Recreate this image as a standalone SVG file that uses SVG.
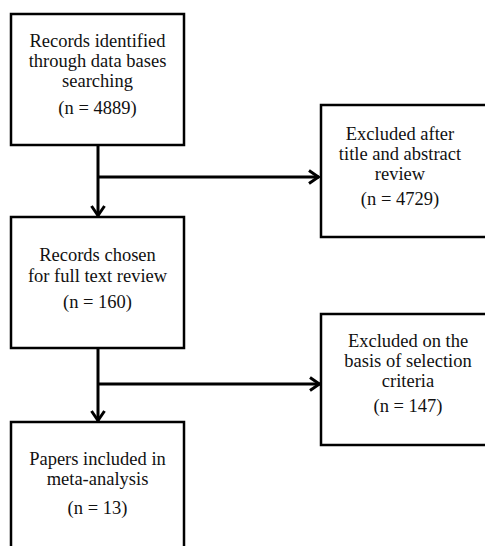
<svg xmlns="http://www.w3.org/2000/svg" width="485" height="546" viewBox="0 0 485 546">
<style>
.box{fill:#fff;stroke:#000;stroke-width:2.5}
.t{font-family:"Liberation Serif","Times New Roman",serif;font-size:18.5px;fill:#111;text-anchor:middle}
.c{fill:none;stroke:#000;stroke-width:3}
</style>
<defs>
<marker id="ah" viewBox="0 0 13 16" refX="11.5" refY="8" markerWidth="13" markerHeight="16" markerUnits="userSpaceOnUse" orient="auto">
<path d="M1.5,1.5 L11,8 L1.5,14.5" fill="none" stroke="#000" stroke-width="3"/>
</marker>
</defs>
<rect width="485" height="546" fill="#fff"/>
<g id="connectors">
<path class="c" d="M98,145 V216" marker-end="url(#ah)"/>
<path class="c" d="M98,177 H319" marker-end="url(#ah)"/>
<path class="c" d="M98,348 V421" marker-end="url(#ah)"/>
<path class="c" d="M98,384 H320" marker-end="url(#ah)"/>
</g>
<g id="n1">
<rect class="box" x="11" y="14" width="173" height="131"/>
<text class="t" x="97.5" y="47">Records identified</text>
<text class="t" x="97.5" y="67">through data bases</text>
<text class="t" x="97.5" y="87">searching</text>
<text class="t" x="97.5" y="114">(n = 4889)</text>
</g>
<g id="n2">
<rect class="box" x="321" y="105" width="170" height="132"/>
<text class="t" x="400" y="140">Excluded after</text>
<text class="t" x="400" y="160">title and abstract</text>
<text class="t" x="400" y="180">review</text>
<text class="t" x="400" y="205">(n = 4729)</text>
</g>
<g id="n3">
<rect class="box" x="11" y="217" width="173" height="131"/>
<text class="t" x="97.5" y="261">Records chosen</text>
<text class="t" x="97.5" y="282">for full text review</text>
<text class="t" x="97.5" y="308">(n = 160)</text>
</g>
<g id="n4">
<rect class="box" x="321" y="314" width="170" height="131"/>
<text class="t" x="408" y="347">Excluded on the</text>
<text class="t" x="408" y="367">basis of selection</text>
<text class="t" x="408" y="387">criteria</text>
<text class="t" x="408" y="412">(n = 147)</text>
</g>
<g id="n5">
<rect class="box" x="11" y="422" width="173" height="140"/>
<text class="t" x="97.5" y="465">Papers included in</text>
<text class="t" x="97.5" y="485">meta-analysis</text>
<text class="t" x="97.5" y="514">(n = 13)</text>
</g>
</svg>
